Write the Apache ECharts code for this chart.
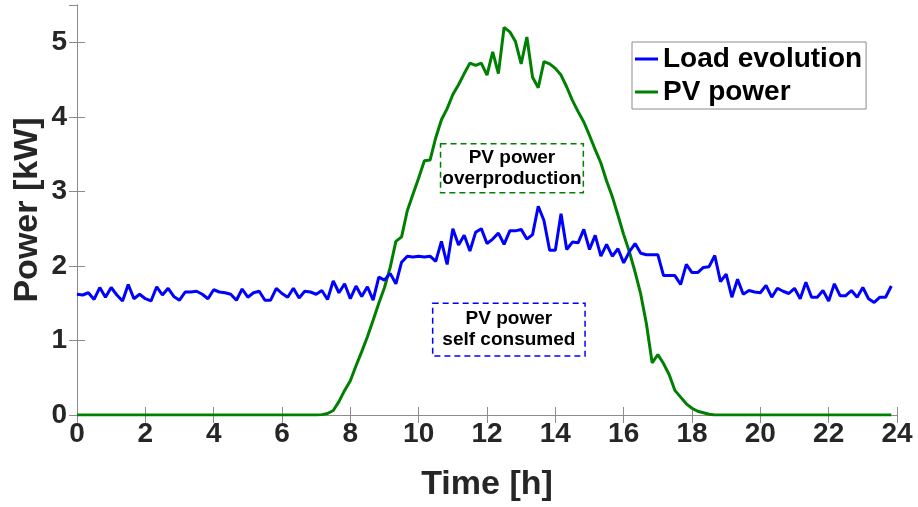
<!DOCTYPE html>
<html>
<head>
<meta charset="utf-8">
<script src="https://cdn.jsdelivr.net/npm/echarts@6/dist/echarts.min.js"></script>
<style>
  html, body { margin: 0; padding: 0; background: #fff; }
  #chart { width: 918px; height: 507px; }
</style>
</head>
<body>
<div id="chart"></div>
<script>
// Household load and PV production over one day, sampled every 10 minutes (kW)
const STEP_MINUTES = 10;

const loadEvolution = [
  1.62, 1.61, 1.64, 1.55, 1.71, 1.58, 1.71, 1.61, 1.53, 1.75, 1.56, 1.62,
  1.56, 1.53, 1.72, 1.61, 1.70, 1.59, 1.54, 1.65, 1.65, 1.66, 1.62, 1.56,
  1.68, 1.65, 1.64, 1.62, 1.54, 1.69, 1.58, 1.64, 1.66, 1.54, 1.54, 1.70,
  1.63, 1.58, 1.70, 1.57, 1.66, 1.65, 1.62, 1.67, 1.55, 1.80, 1.64, 1.76,
  1.56, 1.73, 1.59, 1.72, 1.54, 1.85, 1.81, 1.90, 1.76, 2.05, 2.13, 2.12,
  2.13, 2.12, 2.13, 2.06, 2.33, 2.02, 2.50, 2.28, 2.41, 2.20, 2.45, 2.50,
  2.30, 2.36, 2.44, 2.29, 2.47, 2.47, 2.49, 2.36, 2.42, 2.80, 2.61, 2.21,
  2.21, 2.70, 2.22, 2.32, 2.31, 2.49, 2.22, 2.41, 2.13, 2.29, 2.13, 2.23,
  2.04, 2.19, 2.30, 2.17, 2.15, 2.15, 2.15, 1.87, 1.87, 1.87, 1.75, 2.02,
  1.91, 1.91, 1.98, 1.99, 2.14, 1.79, 1.89, 1.58, 1.82, 1.62, 1.67, 1.65,
  1.64, 1.74, 1.58, 1.70, 1.66, 1.63, 1.70, 1.56, 1.78, 1.58, 1.58, 1.67,
  1.53, 1.76, 1.60, 1.60, 1.67, 1.58, 1.71, 1.56, 1.51, 1.58, 1.58, 1.73
];

const pvPower = [
  0, 0, 0, 0, 0, 0, 0, 0, 0, 0, 0, 0,
  0, 0, 0, 0, 0, 0, 0, 0, 0, 0, 0, 0,
  0, 0, 0, 0, 0, 0, 0, 0, 0, 0, 0, 0,
  0, 0, 0, 0, 0, 0, 0, 0.005, 0.02, 0.06, 0.18, 0.33,
  0.46, 0.66, 0.85, 1.05, 1.27, 1.50, 1.71, 1.98, 2.33, 2.39, 2.74, 2.96,
  3.18, 3.41, 3.42, 3.72, 3.96, 4.11, 4.30, 4.43, 4.58, 4.72, 4.69, 4.72,
  4.56, 4.87, 4.58, 5.20, 5.14, 5.01, 4.71, 5.07, 4.53, 4.39, 4.74, 4.71,
  4.65, 4.56, 4.40, 4.22, 4.07, 3.93, 3.75, 3.56, 3.38, 3.14, 2.93, 2.68,
  2.42, 2.19, 1.92, 1.62, 1.22, 0.70, 0.81, 0.69, 0.54, 0.33, 0.24, 0.15,
  0.09, 0.05, 0.03, 0.01, 0, 0, 0, 0, 0, 0, 0, 0,
  0, 0, 0, 0, 0, 0, 0, 0, 0, 0, 0, 0,
  0, 0, 0, 0, 0, 0, 0, 0, 0, 0, 0, 0
];

// Annotated regions: [startHour, endHour, bottomKW, topKW]
const overproductionBox = [10.64, 14.82, 2.98, 3.64];
const selfConsumedBox = [10.41, 14.87, 0.79, 1.50];

const FONT = '"Liberation Sans", Arial, Helvetica, sans-serif';
const AXIS_GREY = '#8c8c8c';
const BLUE = '#0000ff';
const GREEN = '#008000';

const toPairs = values => values.map((v, i) => [i * STEP_MINUTES / 60, v]);

function boxArea(box, text, color) {
  return {
    silent: true,
    itemStyle: { color: 'rgba(0,0,0,0)', borderColor: color, borderWidth: 1.5, borderType: [6, 4] },
    label: {
      show: true, position: 'inside', formatter: text,
      color: '#000', fontFamily: FONT, fontWeight: 'bold', fontSize: 19, lineHeight: 21
    },
    emphasis: { disabled: true },
    data: [[{ coord: [box[0], box[3]] }, { coord: [box[1], box[2]] }]]
  };
}

const hiddenAxis = {
  axisLine: { show: true, lineStyle: { color: AXIS_GREY, width: 1 } },
  axisTick: { show: true, inside: true, length: 8, lineStyle: { color: AXIS_GREY } },
  axisLabel: { show: false },
  splitLine: { show: false }
};

const chart = echarts.init(document.getElementById('chart'), null, { renderer: 'canvas' });
chart.setOption({
  animation: false,
  backgroundColor: '#ffffff',
  grid: { left: 77, right: 21, top: 5, bottom: 90 },
  legend: {
    orient: 'vertical',
    left: 632, top: 42,
    padding: [3, 4, 3, 3],
    borderColor: AXIS_GREY, borderWidth: 1,
    backgroundColor: '#ffffff',
    icon: 'rect', itemWidth: 23, itemHeight: 3, itemGap: 5,
    textStyle: { fontFamily: FONT, fontWeight: 'bold', fontSize: 28, color: '#000', lineHeight: 28 },
    data: ['Load evolution', 'PV power']
  },
  xAxis: [{
    type: 'value', min: 0, max: 24, interval: 2,
    name: 'Time [h]', nameLocation: 'middle', nameGap: 53, nameMoveOverlap: false,
    nameTextStyle: { fontFamily: FONT, fontWeight: 'bold', fontSize: 34, color: '#262626' },
    axisLine: { show: true, lineStyle: { color: AXIS_GREY, width: 1 } },
    axisTick: { show: true, inside: true, length: 8, lineStyle: { color: AXIS_GREY } },
    axisLabel: { fontFamily: FONT, fontWeight: 'bold', fontSize: 28, color: '#262626', margin: 5 },
    splitLine: { show: false }
  }, Object.assign({ type: 'value', position: 'top', min: 0, max: 24, interval: 2 }, hiddenAxis)],
  yAxis: [{
    type: 'value', min: 0, max: 5.5, interval: 1,
    name: 'Power [kW]', nameLocation: 'middle', nameGap: 32, nameRotate: 90, nameMoveOverlap: false,
    nameTextStyle: { fontFamily: FONT, fontWeight: 'bold', fontSize: 34, color: '#262626' },
    axisLine: { show: true, lineStyle: { color: AXIS_GREY, width: 1 } },
    axisTick: { show: true, inside: true, length: 8, lineStyle: { color: AXIS_GREY } },
    axisLabel: { fontFamily: FONT, fontWeight: 'bold', fontSize: 28, color: '#262626', margin: 10, showMaxLabel: false },
    splitLine: { show: false }
  }, Object.assign({ type: 'value', position: 'right', min: 0, max: 5.5, interval: 1 }, hiddenAxis)],
  series: [{
    name: 'Load evolution', type: 'line', data: toPairs(loadEvolution),
    showSymbol: false, color: BLUE,
    lineStyle: { color: BLUE, width: 3 },
    markArea: boxArea(selfConsumedBox, 'PV power\nself consumed', BLUE),
    z: 3
  }, {
    name: 'PV power', type: 'line', data: toPairs(pvPower),
    showSymbol: false, color: GREEN,
    lineStyle: { color: GREEN, width: 3 },
    markArea: boxArea(overproductionBox, 'PV power\noverproduction', GREEN),
    z: 2
  }]
});
</script>
</body>
</html>
